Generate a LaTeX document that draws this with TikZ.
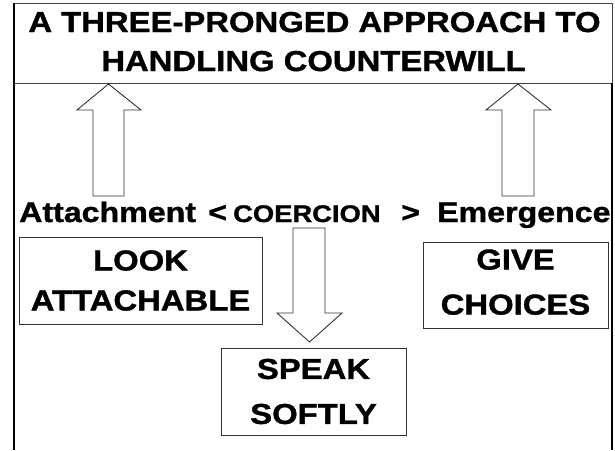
\documentclass[tikz,border=0pt]{standalone}
\usepackage{fontspec}
\setmainfont{Liberation Sans}[FakeStretch=1.14,FakeBold=1.3]
\begin{document}
\begin{tikzpicture}[x=1pt,y=-1pt,
  frameline/.style={line width=2.5pt,black},
  rule/.style={draw=black!75,line width=0.8pt},
  textbox/.style={draw=black!80,line width=0.9pt,inner sep=0pt,align=center},
  blockarrow/.style={draw=black!80,line width=0.9pt,line join=miter},
  headline/.style={inner sep=0pt,anchor=base,font=\bfseries\fontsize{28.8}{30}\selectfont},
  axislabel/.style={inner sep=0pt,anchor=base west,font=\bfseries\fontsize{28.2}{30}\selectfont}]
\useasboundingbox (0,0) rectangle (615,450);

% title panel and outer frame
\node[rule,draw,inner sep=0pt,minimum width=599pt,minimum height=80pt] (title) at (312.5,43) {};
\node[headline] (t1) at (314.5,32) {A THREE-PRONGED APPROACH TO};
\node[headline] (t2) at (313.5,71) {HANDLING COUNTERWILL};
\draw[frameline] (14,3) -- (14,450);
\draw[frameline] (612,83) -- (612,450);

% the spectrum line
\node[axislabel] (att) at (19,222) {Attachment};
\node[axislabel] (lt) at (208,222) {<};
\node[axislabel,font=\bfseries\fontsize{24}{26}\selectfont] (coe) at (233,222) {COERCION};
\node[axislabel] (gt) at (401,222) {>};
\node[axislabel] (eme) at (437,222) {Emergence};

% block arrows
\draw[blockarrow] (93,196) -- (93,110) -- (77,110) -- (108.5,84) -- (141,110) -- (124,110) -- (124,196) -- cycle;
\draw[blockarrow] (502,196) -- (502,110) -- (486,110) -- (518,84) -- (551,110) -- (534,110) -- (534,196) -- cycle;
\draw[blockarrow] (293,228) -- (293,313) -- (277,313) -- (309.5,342) -- (342,313) -- (325,313) -- (325,228) -- cycle;

% the three prongs
\node[textbox,minimum width=243pt,minimum height=87pt,font=\bfseries\fontsize{28.8}{40}\selectfont] (look) at (140.5,280.5) {LOOK\\ATTACHABLE};
\node[textbox,minimum width=185pt,minimum height=86pt,text depth=6pt,font=\bfseries\fontsize{28.8}{45}\selectfont] (give) at (515.5,285) {GIVE\\CHOICES};
\node[textbox,minimum width=185pt,minimum height=87pt,font=\bfseries\fontsize{28.8}{45}\selectfont] (speak) at (313.5,391.5) {SPEAK\\SOFTLY};
\end{tikzpicture}
\end{document}
